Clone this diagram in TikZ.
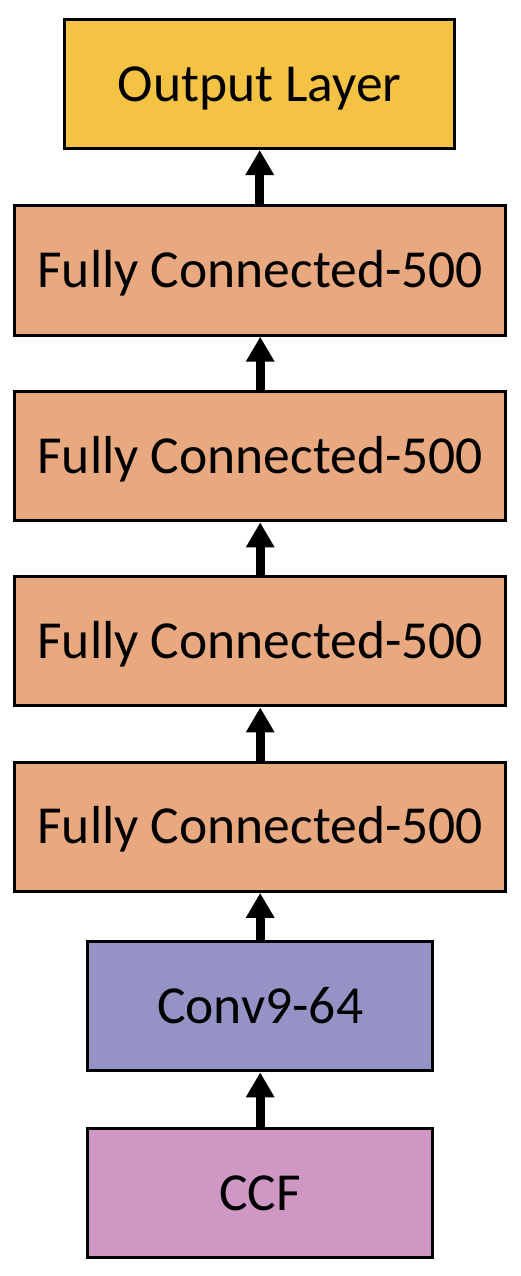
\documentclass[tikz,border=0pt]{standalone}
\usepackage{fontspec}
\setmainfont{Carlito}
\usetikzlibrary{arrows.meta}
\definecolor{outcol}{HTML}{F4C343}
\definecolor{fccol}{HTML}{E8A880}
\definecolor{convcol}{HTML}{9592C5}
\definecolor{ccfcol}{HTML}{CE97C4}
\begin{document}
\begin{tikzpicture}[x=1pt,y=-1pt,
  layer/.style={draw=black,line width=3pt,rectangle,inner sep=0pt,
    font=\fontsize{53.5}{62}\selectfont,text height=34pt,text depth=0pt},
  conn/.style={line width=9pt,-{Triangle[width=27pt,length=25pt]}}]
\useasboundingbox (0,0) rectangle (520,1276);
\node[layer,fill=outcol,minimum width=389.7pt,minimum height=128.7pt] (out) at (259.7,84.2) {Output Layer};
\node[layer,fill=fccol,minimum width=490.7pt,minimum height=129.4pt] (fc1) at (260.2,270.5) {Fully Connected-500};
\node[layer,fill=fccol,minimum width=490.7pt,minimum height=129.4pt] (fc2) at (260.2,456.2) {Fully Connected-500};
\node[layer,fill=fccol,minimum width=490.7pt,minimum height=129.4pt] (fc3) at (260.2,641.2) {Fully Connected-500};
\node[layer,fill=fccol,minimum width=490.7pt,minimum height=129.4pt] (fc4) at (260.2,826.7) {Fully Connected-500};
\node[layer,fill=convcol,minimum width=345.3pt,minimum height=129.3pt] (conv) at (260.2,1006.2) {Conv9-64};
\node[layer,fill=ccfcol,minimum width=345.3pt,minimum height=129.6pt] (ccf) at (260.2,1193) {CCF};
\draw[conn] (fc1.north -| out.south) -- (out.south);
\draw[conn] (fc2.north) -- (fc1.south);
\draw[conn] (fc3.north) -- (fc2.south);
\draw[conn] (fc4.north) -- (fc3.south);
\draw[conn] (conv.north) -- (fc4.south);
\draw[conn] (ccf.north) -- (conv.south);
\end{tikzpicture}
\end{document}
